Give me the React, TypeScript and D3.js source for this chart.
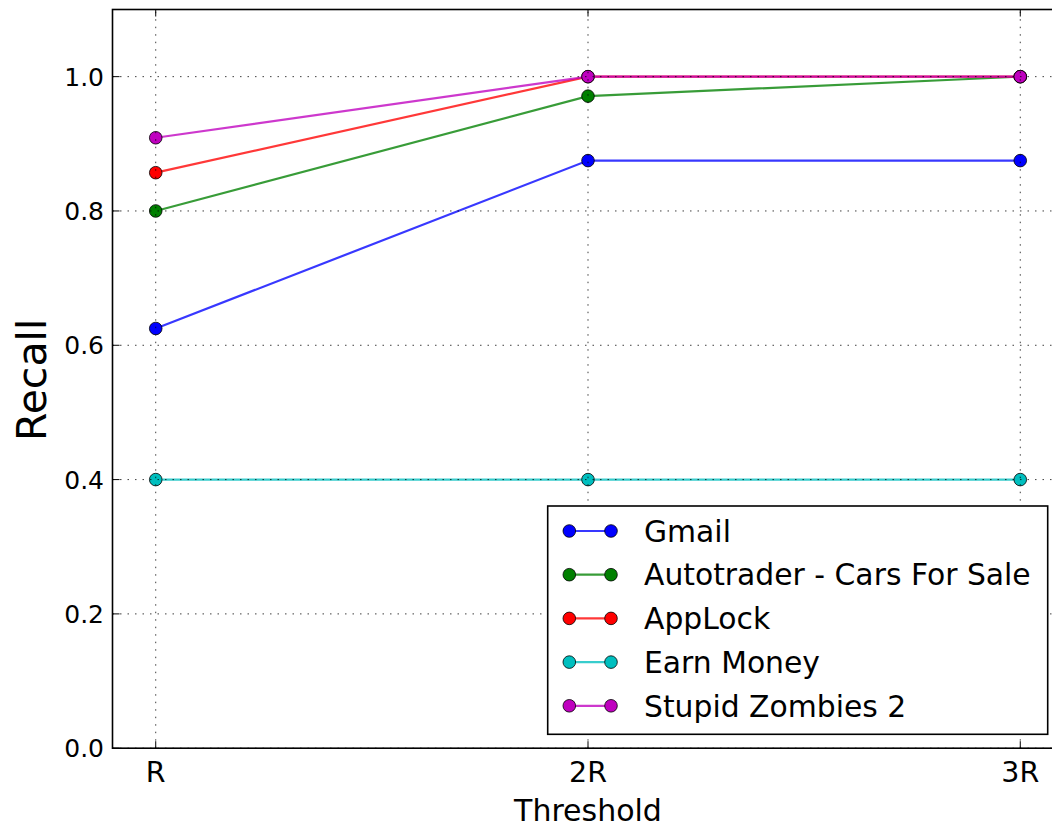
import React from "react";
import * as d3 from "d3";

const categories = ["R", "2R", "3R"];
const xPositions = [1, 2, 3];
const seriesNames = ["Gmail", "Autotrader - Cars For Sale", "AppLock", "Earn Money", "Stupid Zombies 2"];
const seriesColors = ["#0000ff", "#008000", "#ff0000", "#00bfbf", "#bf00bf"];
const gmail = [0.625, 0.875, 0.875];
const autotrader = [0.8, 0.971, 1.0];
const applock = [0.857, 1.0, 1.0];
const earnMoney = [0.4, 0.4, 0.4];
const zombies = [0.909, 1.0, 1.0];
const seriesValues = [gmail, autotrader, applock, earnMoney, zombies];
const yTicks = [0.0, 0.2, 0.4, 0.6, 0.8, 1.0];

const W = 1052;
const H = 829;
const FONT = "DejaVu Sans, sans-serif";

export default function App() {
  const x = d3.scaleLinear().domain([0.9, 3.1]).range([112.5, 1063.5]);
  const y = d3.scaleLinear().domain([0, 1.1]).range([748.2, 9.5]);
  const line = d3
    .line<number>()
    .x((_, i) => x(xPositions[i]))
    .y((d) => y(d));

  const [x0, x1] = x.range();
  const [y0, y1] = y.range();
  const grid = { stroke: "#000", strokeWidth: 1, strokeDasharray: "1.5,6", opacity: 0.75 };

  const legX = 547.7, legY = 506, legW = 500, legH = 228.3;
  const rowY = (i: number) => 531 + i * 43.7;

  return (
    <svg width={W} height={H} style={{ position: "absolute", left: 0, top: 0, background: "#fff" }} fontFamily={FONT}>
      <rect x={0} y={0} width={W} height={H} fill="#fff" />
      {/* data */}
      {seriesValues.map((vals, si) => (
        <g key={si}>
          <path d={line(vals) || ""} fill="none" stroke={seriesColors[si]} strokeWidth={2.2} strokeOpacity={0.78} />
          {vals.map((v, i) => (
            <circle key={i} cx={x(xPositions[i])} cy={y(v)} r={6.3} fill={seriesColors[si]} stroke="#000" strokeWidth={0.8} />
          ))}
        </g>
      ))}
      {/* grid on top */}
      {xPositions.map((p, i) => (
        <line key={"gx" + i} x1={x(p)} x2={x(p)} y1={y0} y2={y1} {...grid} />
      ))}
      {yTicks.map((t, i) => (
        <line key={"gy" + i} x1={x0} x2={x1} y1={y(t)} y2={y(t)} {...grid} />
      ))}
      {/* spines */}
      <rect x={x0} y={y1} width={x1 - x0} height={y0 - y1} fill="none" stroke="#000" strokeWidth={1.6} />
      {/* ticks */}
      {xPositions.map((p, i) => (
        <g key={"tx" + i}>
          <line x1={x(p)} x2={x(p)} y1={y0} y2={y0 - 7} stroke="#000" strokeWidth={1} />
          <line x1={x(p)} x2={x(p)} y1={y1} y2={y1 + 7} stroke="#000" strokeWidth={1} />
          <text x={x(p)} y={782} textAnchor="middle" fontSize={28.5} fill="#000">
            {categories[i]}
          </text>
        </g>
      ))}
      {yTicks.map((t, i) => (
        <g key={"ty" + i}>
          <line x1={x0} x2={x0 + 7} y1={y(t)} y2={y(t)} stroke="#000" strokeWidth={1} />
          <text x={104} y={y(t)} dy="0.36em" textAnchor="end" fontSize={25} fill="#000">
            {d3.format(".1f")(t)}
          </text>
        </g>
      ))}
      <text x={(x0 + x1) / 2} y={821} textAnchor="middle" fontSize={30} fill="#000">
        Threshold
      </text>
      <text transform={`translate(46,${(y0 + y1) / 2 + 1}) rotate(-90)`} textAnchor="middle" fontSize={41} fill="#000">
        Recall
      </text>
      {/* legend */}
      <rect x={legX} y={legY} width={legW} height={legH} fill="#fff" stroke="#000" strokeWidth={1.6} />
      {seriesNames.map((name, i) => (
        <g key={"lg" + i}>
          <line x1={569.3} x2={611} y1={rowY(i)} y2={rowY(i)} stroke={seriesColors[i]} strokeWidth={2.2} strokeOpacity={0.78} />
          <circle cx={569.3} cy={rowY(i)} r={6.3} fill={seriesColors[i]} stroke="#000" strokeWidth={0.8} />
          <circle cx={611} cy={rowY(i)} r={6.3} fill={seriesColors[i]} stroke="#000" strokeWidth={0.8} />
          <text x={644} y={rowY(i)} dy="0.36em" fontSize={29.8} fill="#000">
            {name}
          </text>
        </g>
      ))}
    </svg>
  );
}
